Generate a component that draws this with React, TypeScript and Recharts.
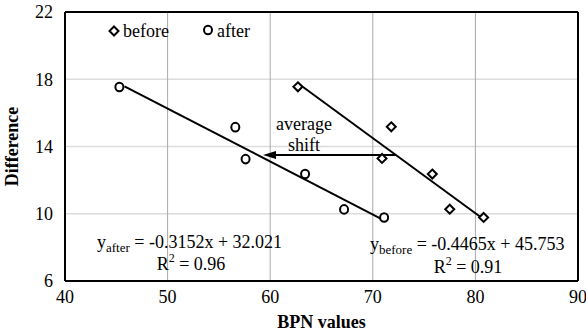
import {
    ScatterChart, Scatter, XAxis, YAxis, CartesianGrid, ReferenceLine, Label
} from 'recharts';

// values
const beforePts = [
    { x: 62.7, y: 17.55 },
    { x: 71.8, y: 15.17 },
    { x: 70.9, y: 13.29 },
    { x: 75.8, y: 12.36 },
    { x: 77.5, y: 10.27 },
    { x: 80.8, y: 9.78 },
];
const afterPts = [
    { x: 45.3, y: 17.54 },
    { x: 56.6, y: 15.15 },
    { x: 57.6, y: 13.25 },
    { x: 63.4, y: 12.36 },
    { x: 67.2, y: 10.26 },
    { x: 71.1, y: 9.78 },
];
// trend line end points
const beforeFit = [
    { x: 62.9, y: 17.67 },
    { x: 80.9, y: 9.63 },
];
const afterFit = [
    { x: 45.8, y: 17.58 },
    { x: 71.1, y: 9.61 },
];
// average shift arrow
const shiftLine = [
    { x: 72.3, y: 13.5 },
    { x: 60.4, y: 13.5 },
];
const arrowTip = [{ x: 59.3, y: 13.5 }];

const xTicks = [40, 50, 60, 70, 80, 90];
const yTicks = [6, 10, 14, 18, 22];

const FONT = 'Liberation Serif';

const Diamond = (props: any) => {
    const { cx, cy } = props;
    const r = 4.5;
    return (
        <path d={`M${cx},${cy - r}L${cx + r},${cy}L${cx},${cy + r}L${cx - r},${cy}Z`}
            fill="#fff" stroke="#000" strokeWidth={2} />
    );
};

const Circle = (props: any) => {
    const { cx, cy } = props;
    return <ellipse cx={cx} cy={cy} rx={4} ry={4.3} fill="#fff" stroke="#000" strokeWidth={2} />;
};

const Nothing = () => <g />;

const ArrowHead = (props: any) => {
    const { cx, cy } = props;
    return <path d={`M${cx},${cy}L${cx + 13},${cy - 4}L${cx + 13},${cy + 4}Z`} fill="#000" />;
};

export default function App() {
    return (
        <div style={{ position: 'absolute', left: 0, top: 0, width: 586, height: 333, background: '#fff', fontFamily: FONT }}>
            <ScatterChart width={586} height={333} margin={{ top: 12, right: 8, bottom: 0, left: 0 }} style={{ fontFamily: FONT }}>
                {/* horizontal grid is lighter than the vertical one */}
                <CartesianGrid stroke="#dcdcdc" strokeWidth={1.5} vertical={false} />
                <CartesianGrid stroke="#a8a8a8" strokeWidth={1} horizontal={false} />
                <XAxis dataKey="x" type="number" domain={[40, 90]} ticks={xTicks} height={52}
                    tickLine={false} tickSize={0} tickMargin={9} axisLine={{ stroke: '#000', strokeWidth: 2 }}
                    tick={{ fill: '#000', fontSize: 18, fontFamily: FONT }} interval={0}>
                    <Label value="BPN values" position="insideBottom" offset={5}
                        style={{ fontWeight: 'bold', fontSize: 18, fill: '#000', fontFamily: FONT }} />
                </XAxis>
                <YAxis dataKey="y" type="number" domain={[6, 22]} ticks={yTicks} width={65}
                    tickLine={false} tickSize={0} tickMargin={12} axisLine={{ stroke: '#000', strokeWidth: 2 }}
                    tick={{ fill: '#000', fontSize: 18, fontFamily: FONT }} interval={0}>
                    <Label value="Difference" angle={-90} position="insideLeft" offset={12}
                        style={{ fontWeight: 'bold', fontSize: 18, fill: '#000', fontFamily: FONT, textAnchor: 'middle' }} />
                </YAxis>
                <ReferenceLine y={22} stroke="#000" strokeWidth={2} />
                <ReferenceLine x={90} stroke="#000" strokeWidth={2} />
                <Scatter data={afterFit} line={{ stroke: '#000', strokeWidth: 2 }} shape={Nothing} isAnimationActive={false} />
                <Scatter data={beforeFit} line={{ stroke: '#000', strokeWidth: 2 }} shape={Nothing} isAnimationActive={false} />
                <Scatter data={shiftLine} line={{ stroke: '#000', strokeWidth: 2 }} shape={Nothing} isAnimationActive={false} />
                <Scatter data={arrowTip} shape={ArrowHead} isAnimationActive={false} />
                <Scatter name="before" data={beforePts} shape={Diamond} isAnimationActive={false} />
                <Scatter name="after" data={afterPts} shape={Circle} isAnimationActive={false} />
            </ScatterChart>
            <svg width={586} height={333} style={{ position: 'absolute', left: 0, top: 0, pointerEvents: 'none', fontFamily: FONT }}
                fontSize={18} fill="#000">
                {/* legend */}
                <path d="M114,26.5L118.5,31L114,35.5L109.5,31Z" fill="#fff" stroke="#000" strokeWidth={2} />
                <text x={123} y={37}>before</text>
                <ellipse cx={208} cy={30} rx={4} ry={4.3} fill="#fff" stroke="#000" strokeWidth={2} />
                <text x={217} y={37}>after</text>
                {/* annotation */}
                <text x={304} y={130} textAnchor="middle">average</text>
                <text x={304} y={151} textAnchor="middle">shift</text>
                {/* equations */}
                <text x={97} y={248}>y<tspan fontSize={13} dy={4}>after</tspan><tspan dy={-4}> = -0.3152x + 32.021</tspan></text>
                <text x={191} y={270} textAnchor="middle">R<tspan fontSize={12} dy={-8}>2</tspan><tspan dy={8}> = 0.96</tspan></text>
                <text x={370} y={250}>y<tspan fontSize={13} dy={4}>before</tspan><tspan dy={-4}> = -0.4465x + 45.753</tspan></text>
                <text x={468} y={273} textAnchor="middle">R<tspan fontSize={12} dy={-8}>2</tspan><tspan dy={8}> = 0.91</tspan></text>
            </svg>
        </div>
    );
}
